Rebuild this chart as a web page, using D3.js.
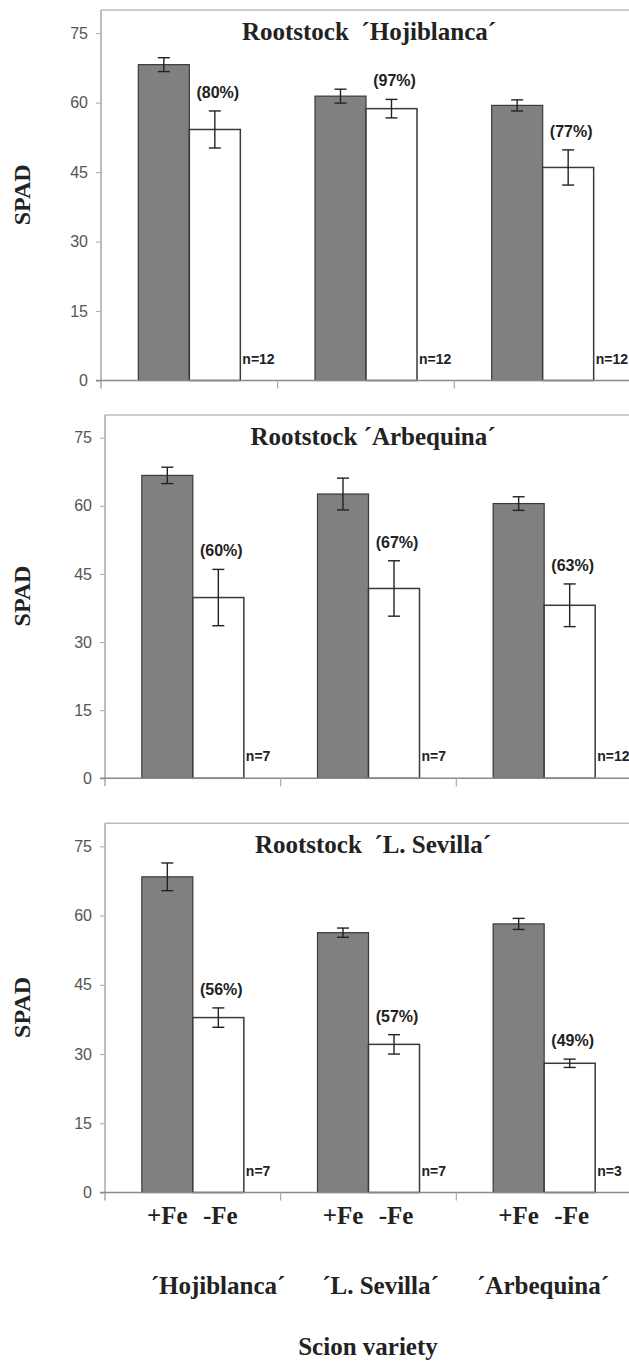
<!DOCTYPE html>
<html>
<head>
<meta charset="utf-8">
<script src="https://cdn.jsdelivr.net/npm/d3@7"></script>
<style>
  html, body { margin: 0; padding: 0; background: #fff; }
  svg { display: block; }
</style>
</head>
<body>
<svg id="chart" width="629" height="1362"></svg>
<script>
// ---------------- DATA ----------------
const scions = ["´Hojiblanca´", "´L. Sevilla´", "´Arbequina´"];
const panelTitles = ["Rootstock  ´Hojiblanca´", "Rootstock ´Arbequina´", "Rootstock  ´L. Sevilla´"];
const treatments = ["+Fe", "-Fe"];
const yTicks = [0, 15, 30, 45, 60, 75];

// SPAD means for +Fe and -Fe, one row per rootstock panel, one value per scion
const plusFe     = [[68.2, 61.4, 59.4], [66.7, 62.6, 60.5], [68.4, 56.3, 58.2]];
const plusFeErr  = [[1.5, 1.5, 1.2],    [1.8, 3.5, 1.5],    [3.0, 1.0, 1.2]];
const minusFe    = [[54.2, 58.7, 46.0], [39.8, 41.8, 38.1], [37.9, 32.1, 28.0]];
const minusFeErr = [[4.0, 2.0, 3.8],    [6.2, 6.1, 4.7],    [2.1, 2.1, 0.9]];
const pctLabels  = [["(80%)", "(97%)", "(77%)"], ["(60%)", "(67%)", "(63%)"], ["(56%)", "(57%)", "(49%)"]];
const nLabels    = [["n=12", "n=12", "n=12"], ["n=7", "n=7", "n=12"], ["n=7", "n=7", "n=3"]];

// ---------------- LAYOUT ----------------
const panels = [
  { left: 101, top: 10,    base: 380.5,  width: 530 },
  { left: 105, top: 415,   base: 778.3,  width: 527 },
  { left: 105, top: 823.3, base: 1192.5, width: 527 }
];
const barW = 51;

const svg = d3.select("#chart");
const serif = "'Liberation Serif', 'Times New Roman', serif";
const sans = "'Liberation Sans', Arial, sans-serif";

panels.forEach((p, pi) => {
  const g = svg.append("g");
  const x = d3.scaleBand().domain(scions).range([p.left, p.left + p.width]);
  const y = d3.scaleLinear().domain([0, 80]).range([p.base, p.top]);

  // frame (top + right)
  g.append("path")
    .attr("d", `M${p.left},${p.top}H${p.left + p.width}V${p.base}`)
    .attr("fill", "none").attr("stroke", "#bdbdbd").attr("stroke-width", 1.5);

  // y axis
  const ya = g.append("g").attr("transform", `translate(${p.left},0)`)
    .call(d3.axisLeft(y).tickValues(yTicks).tickSize(5).tickPadding(8));
  ya.select(".domain").remove();
  ya.selectAll(".tick line").attr("stroke", "#aaa");
  ya.selectAll(".tick text").attr("font-family", sans).attr("font-size", 16)
    .attr("fill", "#555");
  g.append("line").attr("x1", p.left).attr("x2", p.left)
    .attr("y1", p.top).attr("y2", p.base + 8)
    .attr("stroke", "#a8a8a8").attr("stroke-width", 1.5);

  // bars
  scions.forEach((s, i) => {
    const cx = x(s) + x.bandwidth() / 2;
    // +Fe bar
    g.append("rect").attr("x", cx - barW).attr("width", barW)
      .attr("y", y(plusFe[pi][i])).attr("height", y(0) - y(plusFe[pi][i]))
      .attr("fill", "#808080").attr("stroke", "#3a3a3a").attr("stroke-width", 1.2);
    // -Fe bar
    g.append("rect").attr("x", cx).attr("width", barW)
      .attr("y", y(minusFe[pi][i])).attr("height", y(0) - y(minusFe[pi][i]))
      .attr("fill", "#fff").attr("stroke", "#3a3a3a").attr("stroke-width", 1.5);

    // error bars
    const errs = [
      [cx - barW / 2, plusFe[pi][i], plusFeErr[pi][i]],
      [cx + barW / 2, minusFe[pi][i], minusFeErr[pi][i]]
    ];
    errs.forEach(([ex, v, e]) => {
      const eg = g.append("g").attr("stroke", "#222").attr("stroke-width", 1.4);
      eg.append("line").attr("x1", ex).attr("x2", ex).attr("y1", y(v + e)).attr("y2", y(v - e));
      eg.append("line").attr("x1", ex - 6).attr("x2", ex + 6).attr("y1", y(v + e)).attr("y2", y(v + e));
      eg.append("line").attr("x1", ex - 6).attr("x2", ex + 6).attr("y1", y(v - e)).attr("y2", y(v - e));
    });

    // percentage label
    g.append("text").attr("x", cx + barW / 2 + 3).attr("y", y(minusFe[pi][i] + minusFeErr[pi][i]) - 13)
      .attr("text-anchor", "middle").attr("font-family", sans).attr("font-weight", "bold")
      .attr("font-size", 16).attr("fill", "#222").text(pctLabels[pi][i]);

    // n label
    g.append("text").attr("x", cx + barW + 2).attr("y", y(0) - 17)
      .attr("font-family", sans).attr("font-weight", "bold")
      .attr("font-size", 14).attr("fill", "#222").text(nLabels[pi][i]);
  });

  // x axis line and category boundary ticks
  g.append("line").attr("x1", p.left - 5).attr("x2", p.left + p.width)
    .attr("y1", p.base).attr("y2", p.base)
    .attr("stroke", "#8a8a8a").attr("stroke-width", 1.5);
  scions.slice(1).forEach(s => {
    g.append("line").attr("x1", x(s)).attr("x2", x(s))
      .attr("y1", p.base).attr("y2", p.base + 8)
      .attr("stroke", "#aaa").attr("stroke-width", 1.2);
  });

  // title
  g.append("text").attr("x", p.left + 268).attr("y", p.top + 30)
    .attr("text-anchor", "middle").attr("font-family", serif).attr("font-weight", "bold")
    .attr("font-size", 25).attr("fill", "#222").attr("xml:space", "preserve")
    .style("white-space", "pre").text(panelTitles[pi]);

  // y label
  g.append("text")
    .attr("transform", `translate(30,${(y(0) + y(75)) / 2 - 12}) rotate(-90)`)
    .attr("text-anchor", "middle").attr("font-family", serif).attr("font-weight", "bold")
    .attr("font-size", 24).attr("fill", "#222").text("SPAD");

  // bottom labels on last panel
  if (pi === panels.length - 1) {
    scions.forEach(s => {
      const cx = x(s) + x.bandwidth() / 2;
      treatments.forEach((t, ti) => {
        g.append("text").attr("x", cx + (ti === 0 ? -barW / 2 : barW / 2 + 2)).attr("y", p.base + 31)
          .attr("text-anchor", "middle").attr("font-family", serif).attr("font-weight", "bold")
          .attr("font-size", 25).attr("fill", "#222").text(t);
      });
    });
    const xs = d3.scalePoint().domain(scions).range([218, 543]);
    scions.forEach(s => {
      g.append("text").attr("x", xs(s)).attr("y", p.base + 101)
        .attr("text-anchor", "middle").attr("font-family", serif).attr("font-weight", "bold")
        .attr("font-size", 25).attr("fill", "#222").text(s);
    });
    g.append("text").attr("x", 368).attr("y", p.base + 162)
      .attr("text-anchor", "middle").attr("font-family", serif).attr("font-weight", "bold")
      .attr("font-size", 25).attr("fill", "#222").text("Scion variety");
  }
});
</script>
</body>
</html>
